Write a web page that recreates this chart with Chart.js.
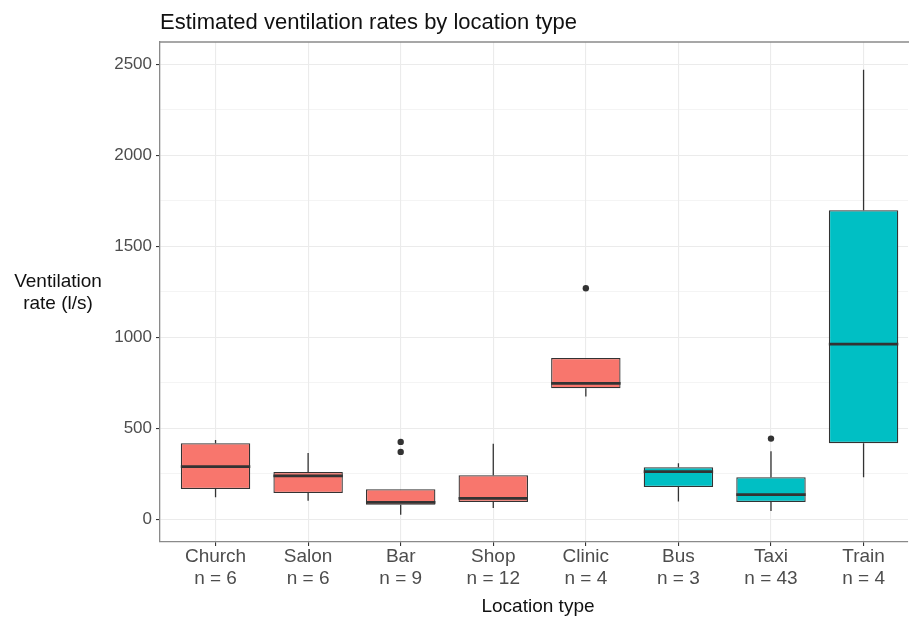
<!DOCTYPE html>
<html>
<head>
<meta charset="utf-8">
<script src="https://cdn.jsdelivr.net/npm/chart.js@4.4.1/dist/chart.umd.min.js"></script>
<style>
  html, body { margin: 0; padding: 0; background: #ffffff; overflow: hidden; }
  #wrap { width: 909px; height: 620px; position: relative; }
</style>
</head>
<body>
<div id="wrap"><canvas id="c" width="909" height="620"></canvas></div>
<script>
// ---- data ----
const categories   = ['Church', 'Salon', 'Bar', 'Shop', 'Clinic', 'Bus', 'Taxi', 'Train'];
const counts       = [6, 6, 9, 12, 4, 3, 43, 4];
const groupOf      = ['A', 'A', 'A', 'A', 'A', 'B', 'B', 'B'];
const whiskerLow   = [121, 102, 25, 62, 674, 97, 46, 231];
const q1           = [166, 144, 80, 95, 720, 177, 95, 418];
const median       = [289, 238, 93, 115, 747, 262, 135, 962];
const q3           = [418, 260, 165, 242, 886, 286, 231, 1698];
const whiskerHigh  = [436, 364, 165, 415, 886, 308, 374, 2469];
const outlierCat   = [2, 2, 4, 6];
const outlierVal   = [425, 370, 1269, 443];
const yMajorTicks  = [0, 500, 1000, 1500, 2000, 2500];
const yMinorTicks  = [250, 750, 1250, 1750, 2250];

const groupColors = { A: '#F8766D', B: '#00BFC4' };
const LINE = '#333333';
const GRID = '#ebebeb';

Chart.defaults.font.family = '"Liberation Sans", Arial, sans-serif';

const boxData = categories.map((c, i) => ({ x: i, y: [q1[i], q3[i]] }));
const outData = outlierCat.map((ci, k) => ({ x: ci, y: outlierVal[k] }));

const boxPlugin = {
  id: 'boxExtras',
  beforeDatasetsDraw(chart) {
    const ctx = chart.ctx, xs = chart.scales.x, ys = chart.scales.y;
    ctx.save();
    ctx.strokeStyle = LINE;
    ctx.lineWidth = 1.3;
    categories.forEach((c, i) => {
      const px = xs.getPixelForValue(i);
      ctx.beginPath();
      ctx.moveTo(px, ys.getPixelForValue(whiskerLow[i]));
      ctx.lineTo(px, ys.getPixelForValue(q1[i]));
      ctx.moveTo(px, ys.getPixelForValue(q3[i]));
      ctx.lineTo(px, ys.getPixelForValue(whiskerHigh[i]));
      ctx.stroke();
    });
    ctx.restore();
  },
  afterDatasetsDraw(chart) {
    const ctx = chart.ctx, ys = chart.scales.y;
    const meta = chart.getDatasetMeta(0);
    ctx.save();
    ctx.strokeStyle = LINE;
    ctx.lineWidth = 2.8;
    meta.data.forEach((bar, i) => {
      const py = ys.getPixelForValue(median[i]);
      ctx.beginPath();
      ctx.moveTo(bar.x - bar.width / 2, py);
      ctx.lineTo(bar.x + bar.width / 2, py);
      ctx.stroke();
    });
    ctx.restore();
  },
  afterDraw(chart) {
    const ctx = chart.ctx, a = chart.chartArea;
    ctx.save();
    // top panel border
    ctx.strokeStyle = '#8a8a8a';
    ctx.lineWidth = 1.3;
    ctx.beginPath();
    ctx.moveTo(a.left, a.top);
    ctx.lineTo(chart.width + 2, a.top);
    ctx.stroke();
    // title
    ctx.fillStyle = '#111111';
    ctx.textAlign = 'left';
    ctx.textBaseline = 'alphabetic';
    ctx.font = '22px "Liberation Sans", Arial, sans-serif';
    ctx.fillText('Estimated ventilation rates by location type', 160, 28.5);
    // y-axis title (horizontal, two lines)
    ctx.font = '19px "Liberation Sans", Arial, sans-serif';
    ctx.textBaseline = 'middle';
    ctx.textAlign = 'center';
    ctx.fillText('Ventilation', 58, 282);
    ctx.fillText('rate (l/s)', 58, 304);
    // x-axis title
    ctx.fillText('Location type', 538, 607);
    ctx.restore();
  }
};

new Chart(document.getElementById('c'), {
  type: 'bar',
  data: {
    datasets: [
      {
        type: 'bar',
        data: boxData,
        backgroundColor: groupOf.map(g => groupColors[g]),
        borderColor: LINE,
        borderWidth: 1.3,
        borderSkipped: false,
        categoryPercentage: 0.75,
        barPercentage: 1.0
      },
      {
        type: 'scatter',
        data: outData,
        pointRadius: 3.2,
        pointBackgroundColor: LINE,
        pointBorderColor: LINE,
        pointBorderWidth: 0
      }
    ]
  },
  options: {
    responsive: false,
    animation: false,
    events: [],
    layout: { autoPadding: false, padding: { top: 42, right: 1, left: 0, bottom: 0 } },
    plugins: { legend: { display: false }, tooltip: { enabled: false }, title: { display: false } },
    scales: {
      x: {
        type: 'linear',
        min: -0.6,
        max: 7.48,
        offset: false,
        afterBuildTicks(scale) { scale.ticks = categories.map((c, i) => ({ value: i })); },
        afterFit(scale) { scale.height = 78; },
        ticks: {
          autoSkip: false,
          maxRotation: 0,
          padding: 0,
          color: '#4d4d4d',
          font: { size: 19, lineHeight: '22px' },
          callback: (v) => [categories[v], 'n = ' + counts[v]]
        },
        grid: {
          offset: false,
          drawTicks: true,
          color: GRID,
          lineWidth: 1.1,
          tickColor: LINE,
          tickLength: 4,
          tickWidth: 1.1
        },
        border: { display: true, color: '#8a8a8a', width: 1.3 }
      },
      y: {
        type: 'linear',
        min: -125,
        max: 2622,
        afterBuildTicks(scale) {
          scale.ticks = yMajorTicks.concat(yMinorTicks).sort((p, q) => p - q).map(v => ({ value: v }));
        },
        afterFit(scale) { scale.width = 160; },
        ticks: {
          padding: 4,
          color: '#4d4d4d',
          font: { size: 17 },
          callback: (v) => (yMajorTicks.includes(v) ? String(v) : '')
        },
        grid: {
          color: GRID,
          lineWidth: (ctx) => (ctx.tick && yMajorTicks.includes(ctx.tick.value) ? 1.1 : 0.55),
          tickColor: (ctx) => (ctx.tick && yMajorTicks.includes(ctx.tick.value) ? LINE : 'rgba(0,0,0,0)'),
          tickLength: 4,
          tickWidth: 1.1
        },
        border: { display: true, color: '#8a8a8a', width: 1.3 }
      }
    }
  },
  plugins: [boxPlugin]
});
</script>
</body>
</html>
